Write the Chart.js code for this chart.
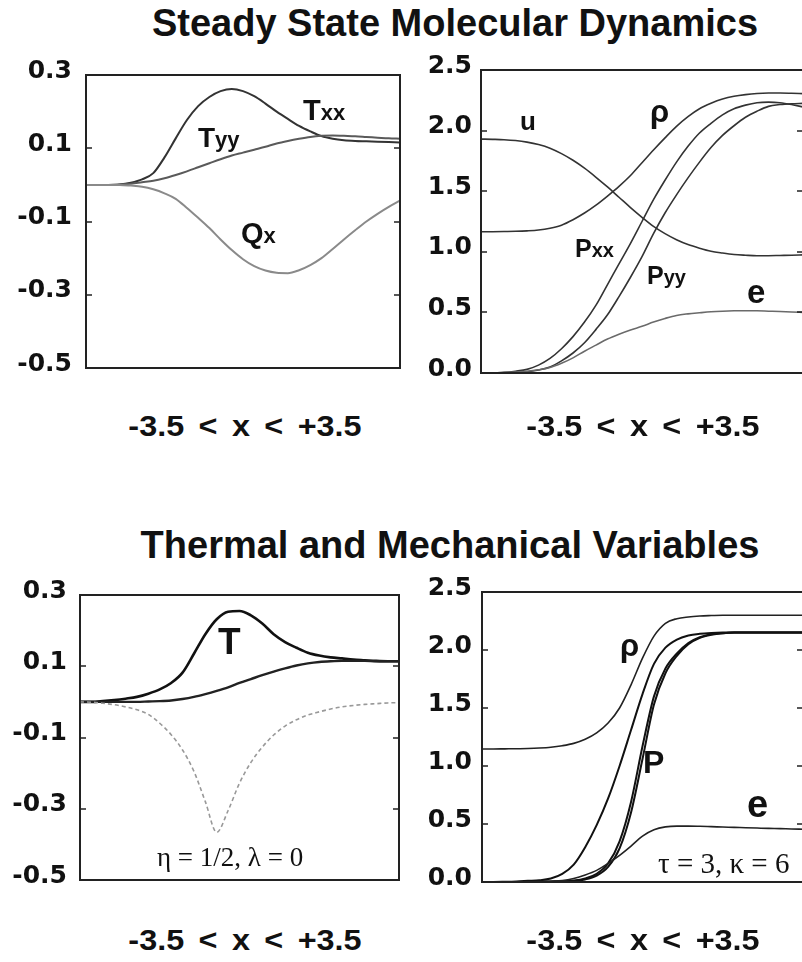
<!DOCTYPE html>
<html>
<head>
<meta charset="utf-8">
<script src="https://cdn.jsdelivr.net/npm/chart.js@4.4.1/dist/chart.umd.min.js"></script>
<style>
html,body{margin:0;padding:0;background:#fff;overflow:hidden}
#wrap{position:relative;width:802px;height:962px;overflow:hidden;background:#fff}
.cv{position:absolute}
.cv canvas{display:block}
.t{position:absolute;white-space:nowrap;color:#111;font-family:"Liberation Sans",Arial,sans-serif;font-weight:bold;line-height:1;z-index:5}
.serif{font-family:"Liberation Serif","Times New Roman",serif;font-weight:normal}
.title{font-size:38px;width:800px;text-align:center}
.xl{font-size:30px;width:400px;text-align:center;word-spacing:5px;transform:scaleX(1.08);transform-origin:center top}
</style>
</head>
<body>
<div id="wrap">
  <div class="t title" style="left:55px;top:4px">Steady State Molecular Dynamics</div>
  <div class="t title" style="left:50px;top:526px">Thermal and Mechanical Variables</div>

  <div class="cv" style="left:0;top:46px"><canvas id="cTL" width="410" height="351"></canvas></div>
  <div class="cv" style="left:400px;top:46px"><canvas id="cTR" width="410" height="351"></canvas></div>
  <div class="cv" style="left:0;top:567px"><canvas id="cBL" width="410" height="341"></canvas></div>
  <div class="cv" style="left:400px;top:567px"><canvas id="cBR" width="410" height="340"></canvas></div>

  <div class="t xl" style="left:45px;top:411px">-3.5 &lt; x &lt; +3.5</div>
  <div class="t xl" style="left:443px;top:411px">-3.5 &lt; x &lt; +3.5</div>
  <div class="t xl" style="left:45px;top:925px">-3.5 &lt; x &lt; +3.5</div>
  <div class="t xl" style="left:443px;top:925px">-3.5 &lt; x &lt; +3.5</div>

  <!-- top-left labels -->
  <div class="t" style="left:303px;top:96px;font-size:29px">T<span style="font-size:22px">xx</span></div>
  <div class="t" style="left:198px;top:124px;font-size:28px">T<span style="font-size:22px">yy</span></div>
  <div class="t" style="left:241px;top:219px;font-size:29px">Q<span style="font-size:22px">x</span></div>
  <!-- top-right labels -->
  <div class="t" style="left:520px;top:108px;font-size:26px">u</div>
  <div class="t" style="left:650px;top:96px;font-size:31px">ρ</div>
  <div class="t" style="left:575px;top:236px;font-size:25px">P<span style="font-size:20px">xx</span></div>
  <div class="t" style="left:647px;top:263px;font-size:25px">P<span style="font-size:20px">yy</span></div>
  <div class="t" style="left:747px;top:275px;font-size:33px">e</div>
  <!-- bottom-left labels -->
  <div class="t" style="left:218px;top:623px;font-size:37px">T</div>
  <div class="t serif" style="left:157px;top:844px;font-size:27px">η = 1/2, λ = 0</div>
  <!-- bottom-right labels -->
  <div class="t" style="left:620px;top:630px;font-size:31px">ρ</div>
  <div class="t" style="left:643px;top:746px;font-size:32px">P</div>
  <div class="t" style="left:747px;top:785px;font-size:38px">e</div>
  <div class="t serif" style="left:658px;top:849px;font-size:29px">τ = 3, κ = 6</div>
</div>

<script>
// ---------- data ----------
const xs = [-3.5,-3.25,-3,-2.75,-2.5,-2.25,-2,-1.75,-1.5,-1.25,-1,-0.75,-0.5,-0.25,0,0.25,0.5,0.75,1,1.25,1.5,1.75,2,2.25,2.5,2.75,3,3.25,3.5];

const yTicksLeft  = [-0.5,-0.3,-0.1,0.1,0.3];
const yTicksRight = [0,0.5,1,1.5,2,2.5];

// Steady State Molecular Dynamics, left panel
const mdTxx = [0,0,0,0.001,0.006,0.015,0.032,0.075,0.127,0.177,0.215,0.24,0.256,0.262,0.256,0.242,0.222,0.2,0.18,0.161,0.146,0.133,0.126,0.122,0.12,0.119,0.118,0.117,0.116];
const mdTyy = [0,0,0,0.001,0.003,0.007,0.011,0.018,0.027,0.037,0.048,0.059,0.07,0.08,0.088,0.096,0.104,0.113,0.12,0.126,0.131,0.134,0.135,0.134,0.133,0.131,0.129,0.127,0.126];
const mdQx  = [0,0,0,0,-0.002,-0.005,-0.012,-0.023,-0.038,-0.063,-0.09,-0.118,-0.149,-0.178,-0.203,-0.222,-0.234,-0.24,-0.241,-0.233,-0.219,-0.2,-0.175,-0.149,-0.124,-0.1,-0.079,-0.06,-0.043];

// Steady State Molecular Dynamics, right panel
const mdU   = [1.93,1.928,1.925,1.918,1.905,1.885,1.855,1.81,1.755,1.69,1.615,1.535,1.45,1.365,1.285,1.21,1.15,1.1,1.06,1.03,1.005,0.99,0.978,0.972,0.968,0.968,0.97,0.972,0.975];
const mdRho = [1.166,1.166,1.167,1.169,1.173,1.18,1.195,1.22,1.265,1.32,1.385,1.46,1.54,1.63,1.735,1.84,1.94,2.035,2.115,2.18,2.225,2.26,2.283,2.297,2.306,2.31,2.31,2.308,2.305];
const mdPxx = [0,0,0.005,0.015,0.03,0.065,0.12,0.2,0.3,0.42,0.56,0.73,0.90,1.07,1.25,1.43,1.59,1.74,1.87,1.98,2.06,2.13,2.18,2.21,2.23,2.235,2.23,2.215,2.195];
const mdPyy = [0,0,0,0.005,0.01,0.025,0.05,0.10,0.165,0.25,0.36,0.48,0.63,0.79,0.96,1.15,1.32,1.47,1.61,1.74,1.86,1.96,2.04,2.11,2.16,2.20,2.215,2.222,2.225];
const mdE   = [0,0,0.003,0.008,0.015,0.027,0.045,0.08,0.125,0.18,0.23,0.28,0.32,0.355,0.385,0.42,0.45,0.475,0.488,0.497,0.505,0.51,0.513,0.514,0.513,0.51,0.507,0.503,0.5];

// Thermal and Mechanical Variables, left panel
const tmT  = [0,0,0.002,0.005,0.009,0.014,0.023,0.035,0.053,0.082,0.135,0.19,0.232,0.253,0.255,0.243,0.22,0.19,0.168,0.152,0.138,0.13,0.125,0.122,0.119,0.117,0.115,0.114,0.114];
const tmT2 = [0,0,0,0,0,0,0.001,0.002,0.004,0.008,0.014,0.022,0.031,0.041,0.053,0.064,0.075,0.085,0.094,0.102,0.108,0.112,0.114,0.115,0.115,0.115,0.114,0.114,0.114];
const tmQ  = [0,-0.001,-0.004,-0.008,-0.014,-0.022,-0.035,-0.06,-0.092,-0.135,-0.195,-0.28,-0.366,-0.305,-0.228,-0.17,-0.127,-0.093,-0.068,-0.05,-0.037,-0.028,-0.02,-0.014,-0.01,-0.007,-0.005,-0.003,-0.002];

// Thermal and Mechanical Variables, right panel
const tmRho = [1.147,1.147,1.148,1.149,1.151,1.155,1.162,1.175,1.195,1.23,1.285,1.37,1.5,1.7,1.93,2.12,2.23,2.27,2.285,2.293,2.297,2.3,2.3,2.3,2.3,2.3,2.3,2.3,2.3];
const tmP1  = [0,0,0.002,0.005,0.01,0.015,0.03,0.07,0.15,0.30,0.49,0.72,1.0,1.31,1.62,1.88,2.02,2.09,2.125,2.14,2.147,2.15,2.15,2.15,2.15,2.15,2.15,2.15,2.15];
const tmP2  = [0,0,0,0,0.001,0.002,0.004,0.007,0.012,0.03,0.07,0.16,0.35,0.69,1.17,1.6,1.84,1.97,2.06,2.11,2.135,2.145,2.15,2.15,2.15,2.15,2.15,2.15,2.15];
const tmP3  = [0,0,0,0,0,0.001,0.003,0.005,0.009,0.022,0.055,0.13,0.29,0.6,1.06,1.53,1.8,1.95,2.05,2.105,2.132,2.145,2.15,2.15,2.15,2.15,2.15,2.15,2.15];
const tmE   = [0,0,0,0.001,0.002,0.004,0.007,0.012,0.03,0.06,0.1,0.16,0.23,0.31,0.395,0.45,0.475,0.482,0.482,0.48,0.477,0.474,0.471,0.468,0.465,0.462,0.46,0.457,0.455];

// ---------- helpers ----------
const pts = ys => ys.map((v, i) => ({x: xs[i], y: v}));
function ds(ys, color, width, dash) {
  return {data: pts(ys), borderColor: color, borderWidth: width, borderDash: dash || [],
          pointRadius: 0, fill: false, cubicInterpolationMode: 'monotone', clip: 2};
}

const framePlugin = {
  id: 'frame',
  afterDatasetsDraw(chart) {
    const {ctx, chartArea: a, scales: {y}} = chart;
    ctx.save();
    ctx.strokeStyle = '#222';
    ctx.lineWidth = 2;
    ctx.strokeRect(a.left, a.top, a.right - a.left, a.bottom - a.top);
    ctx.lineWidth = 1.5;
    ctx.beginPath();
    y.ticks.forEach(t => {
      const py = Math.round(y.getPixelForValue(t.value));
      if (Math.abs(py - a.top) < 2 || Math.abs(py - a.bottom) < 2) return;
      ctx.moveTo(a.left, py); ctx.lineTo(a.left + 6, py);
      ctx.moveTo(a.right - 6, py); ctx.lineTo(a.right, py);
    });
    ctx.stroke();
    ctx.restore();
  }
};

function makeChart(id, datasets, yMin, yMax, yTicks, axisW, padRight, tickPad) {
  return new Chart(document.getElementById(id), {
    type: 'line',
    data: {datasets},
    options: {
      responsive: false, animation: false, devicePixelRatio: 1, events: [],
      layout: {padding: {top: 24, bottom: 24, left: 0, right: padRight}},
      plugins: {legend: {display: false}, tooltip: {enabled: false}},
      scales: {
        x: {type: 'linear', min: -3.5, max: 3.5, display: false},
        y: {
          type: 'linear', min: yMin, max: yMax,
          grid: {display: false, drawTicks: false},
          border: {display: false},
          afterBuildTicks: s => { s.ticks = yTicks.map(v => ({value: v})); },
          afterFit: s => { s.width = axisW; },
          ticks: {
            color: '#111', padding: tickPad, labelOffset: -4,
            font: {family: '"DejaVu Sans", sans-serif', weight: 'bold', size: 25},
            callback: v => Number(v).toFixed(1)
          }
        }
      }
    },
    plugins: [framePlugin]
  });
}

makeChart('cTL', [
  ds(mdQx, '#8a8a8a', 2),
  ds(mdTyy, '#5a5a5a', 2),
  ds(mdTxx, '#333333', 2)
], -0.5, 0.3, yTicksLeft, 86, 10, 14);

makeChart('cTR', [
  ds(mdE, '#6a6a6a', 1.6),
  ds(mdU, '#333', 1.6),
  ds(mdRho, '#333', 1.6),
  ds(mdPxx, '#333', 1.6),
  ds(mdPyy, '#333', 1.6)
], 0, 2.5, yTicksRight, 81, 7, 9);

makeChart('cBL', [
  ds(tmQ, '#999', 1.6, [4, 3]),
  ds(tmT2, '#222', 2.4),
  ds(tmT, '#111', 2.6)
], -0.5, 0.3, yTicksLeft, 80, 11, 13);

makeChart('cBR', [
  ds(tmE, '#222', 1.6),
  ds(tmRho, '#222', 1.6),
  ds(tmP1, '#111', 2),
  ds(tmP2, '#111', 2),
  ds(tmP3, '#111', 2)
], 0, 2.5, yTicksRight, 82, 7, 10);
</script>
</body>
</html>
